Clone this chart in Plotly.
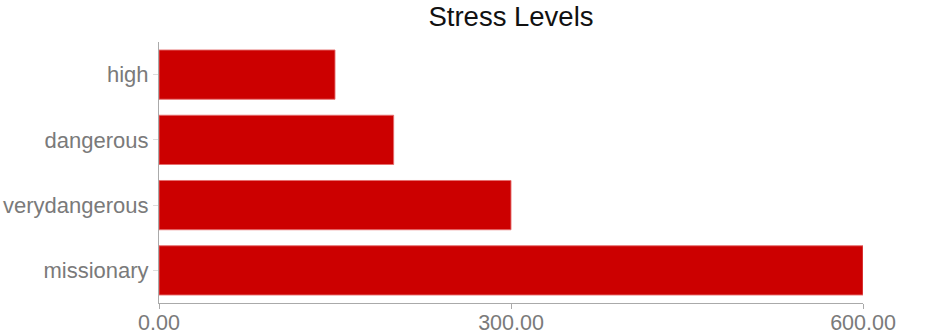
import plotly.graph_objects as go

categories = ["high", "dangerous", "verydangerous", "missionary"]
values = [150, 200, 300, 600]
x_ticks = [0, 300, 600]
x_tick_labels = ["0.00", "300.00", "600.00"]
title_text = "Stress Levels"

FONT = "Liberation Sans, Arial, Helvetica, sans-serif"

fig = go.Figure(
    go.Bar(
        x=values,
        y=categories,
        orientation="h",
        marker=dict(color="#cc0000", line=dict(color="rgba(230,110,110,0.9)", width=1)),
        hoverinfo="x+y",
    )
)

fig.update_layout(
    width=936,
    height=334,
    margin=dict(l=159, r=73, t=42, b=31, autoexpand=False),
    paper_bgcolor="white",
    plot_bgcolor="white",
    bargap=0.245,
    showlegend=False,
    font=dict(family=FONT, color="#777777", size=22),
    title=dict(
        text=title_text,
        x=0.5,
        xref="paper",
        xanchor="center",
        y=1 - 16 / 334,
        yref="container",
        yanchor="middle",
        font=dict(family=FONT, size=27.5, color="#111111"),
    ),
)

fig.update_xaxes(
    range=[0, 600],
    tickmode="array",
    tickvals=x_ticks,
    ticktext=x_tick_labels,
    showgrid=False,
    zeroline=False,
    showline=True,
    linecolor="#aaaaaa",
    linewidth=1,
    ticks="outside",
    ticklen=5,
    tickcolor="#aaaaaa",
    ticklabelstandoff=-5,
    tickfont=dict(size=21.5, color="#7a7a7a"),
    automargin=False,
    fixedrange=True,
)

fig.update_yaxes(
    autorange="reversed",
    categoryorder="array",
    categoryarray=categories,
    showgrid=False,
    zeroline=False,
    showline=True,
    linecolor="#aaaaaa",
    linewidth=1,
    ticks="outside",
    ticklen=5,
    tickcolor="#dddddd",
    tickfont=dict(size=22, color="#7a7a7a"),
    automargin=False,
    fixedrange=True,
)

fig.write_html("out.html")
